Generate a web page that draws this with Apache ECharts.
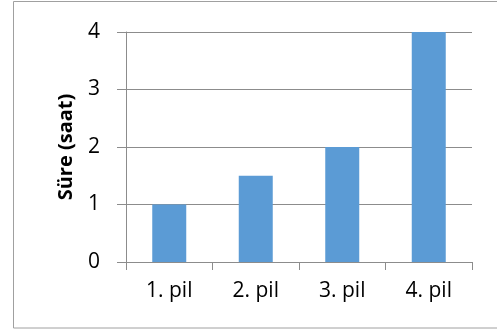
<!DOCTYPE html>
<html>
<head>
<meta charset="utf-8">
<script src="https://cdn.jsdelivr.net/npm/echarts@6/dist/echarts.min.js"></script>
<style>
  html, body { margin: 0; padding: 0; background: #fff; }
  #main { width: 497px; height: 331px; }
</style>
</head>
<body>
<div id="main"></div>
<script>
"use strict";

// kategoriler ve degerler
var categories = ['1. pil', '2. pil', '3. pil', '4. pil'];
var hours = [1, 1.5, 2, 4];
var yMin = 0, yMax = 4, yStep = 1;
var yName = 'Süre (saat)';

var chart = echarts.init(document.getElementById('main'), null, { renderer: 'canvas' });

var lineColor = '#8c8c8c';
var font = '"Open Sans", "Noto Sans", sans-serif';

var option = {
	animation: false,
	backgroundColor: '#fff',
	graphic: [{
		type: 'rect',
		shape: { x: 13.5, y: 1.5, width: 490, height: 326.5 },
		style: { fill: 'none', stroke: '#a0a0a0', lineWidth: 1 },
		silent: true
	}],
	grid: {
		left: 126,
		right: 25,
		top: 32,
		bottom: 69
	},
	xAxis: {
		type: 'category',
		data: categories,
		axisLine: { lineStyle: { color: lineColor, width: 1 } },
		axisTick: { show: true, length: 8, lineStyle: { color: lineColor } },
		axisLabel: {
			color: '#000',
			fontFamily: font,
			fontSize: 21,
			margin: 19
		}
	},
	yAxis: {
		type: 'value',
		min: yMin,
		max: yMax,
		interval: yStep,
		name: yName,
		nameLocation: 'middle',
		nameGap: 50,
		nameTextStyle: {
			color: '#000',
			fontFamily: font,
			fontSize: 20,
			fontWeight: 'bold'
		},
		axisLine: { show: true, lineStyle: { color: lineColor, width: 1 } },
		axisTick: { show: true, length: 9, lineStyle: { color: lineColor } },
		splitLine: { show: true, lineStyle: { color: lineColor, width: 1 } },
		axisLabel: {
			color: '#000',
			fontFamily: font,
			fontSize: 21,
			margin: 26
		}
	},
	series: [{
		type: 'bar',
		data: hours,
		barWidth: 34,
		itemStyle: { color: '#5b9bd5' }
	}]
};

chart.setOption(option);
</script>
</body>
</html>
